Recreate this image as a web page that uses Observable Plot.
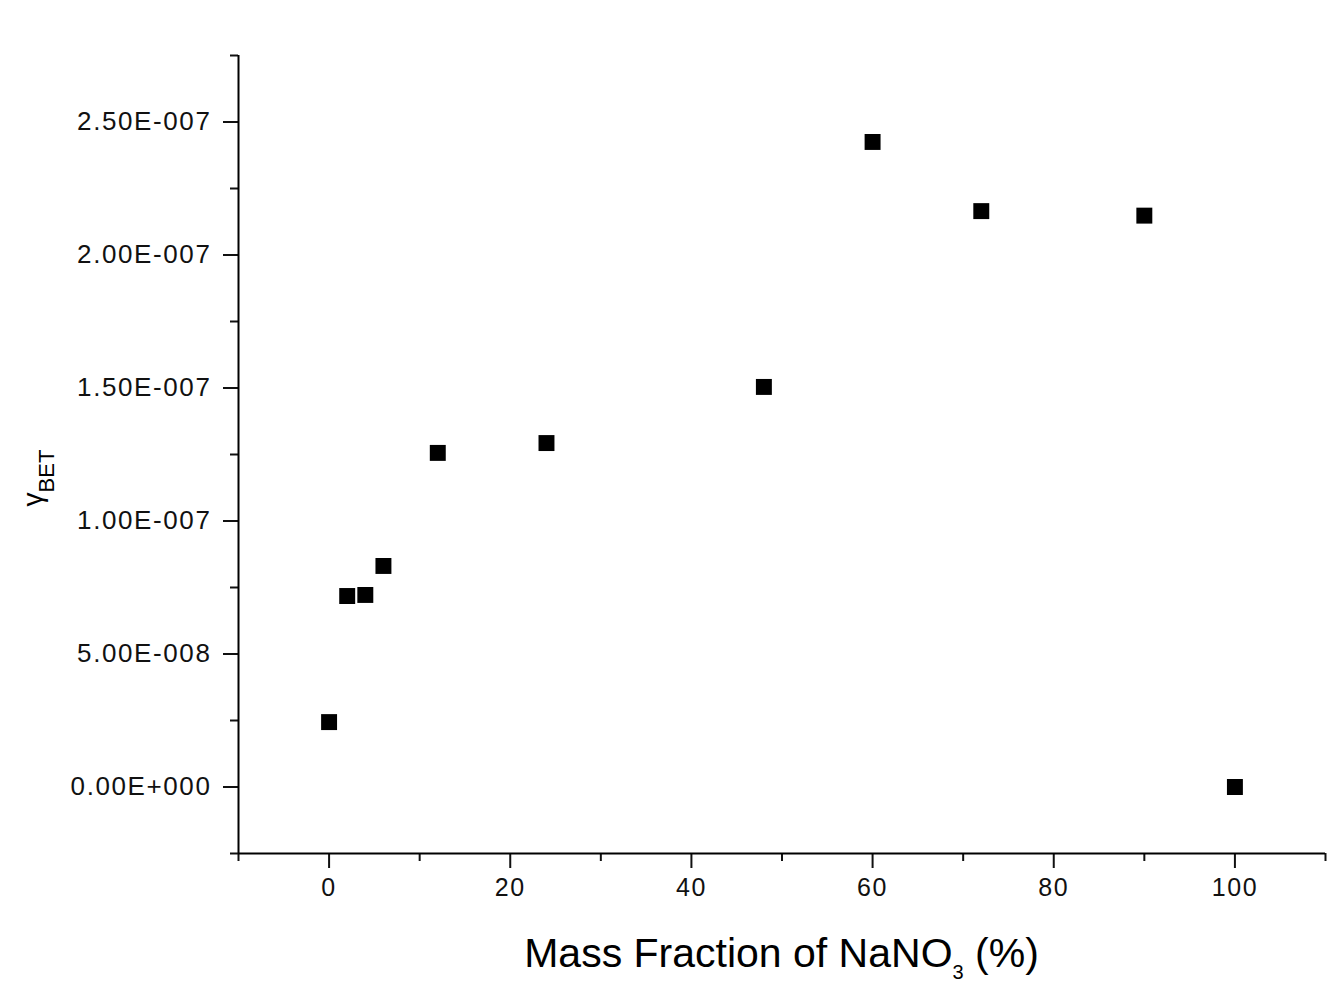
<!DOCTYPE html>
<html>
<head>
<meta charset="utf-8">
<script src="https://cdn.jsdelivr.net/npm/d3@7"></script>
<script src="https://cdn.jsdelivr.net/npm/@observablehq/plot@0.6"></script>
<style>
  html, body { margin: 0; padding: 0; background: #fff; }
  #chart svg { display: block; }
  #chart svg g[aria-label$="tick label"] text { letter-spacing: 1.6px; }
</style>
</head>
<body>
<div id="chart"></div>
<script>
// Data
const massFraction = [0, 2, 4, 6, 12, 24, 48, 60, 72, 90, 100];
const gammaBET = [2.44e-8, 7.18e-8, 7.22e-8, 8.31e-8, 1.256e-7, 1.293e-7, 1.504e-7, 2.425e-7, 2.165e-7, 2.148e-7, 0];

const xMajorTicks = [0, 20, 40, 60, 80, 100];
const xMinorTicks = [-10, 10, 30, 50, 70, 90, 110];
const yMajorTicks = [0, 5e-8, 1e-7, 1.5e-7, 2e-7, 2.5e-7];
const yMinorTicks = [-2.5e-8, 2.5e-8, 7.5e-8, 1.25e-7, 1.75e-7, 2.25e-7, 2.75e-7];

const xDomain = [-10, 110];
const yDomain = [-2.5e-8, 2.75e-7];

const data = massFraction.map((x, i) => ({x, y: gammaBET[i]}));

function sciFormat(d) {
  if (d === 0) return "0.00E+000";
  let e = Math.floor(Math.log10(Math.abs(d)));
  let m = d / Math.pow(10, e);
  if (Math.abs(m) >= 9.995) { m /= 10; e += 1; }
  const sign = e < 0 ? "-" : "+";
  return m.toFixed(2) + "E" + sign + String(Math.abs(e)).padStart(3, "0");
}

const font = "'Liberation Sans', Arial, sans-serif";

const W = 1338, H = 993;
const mL = 238, mR = 13, mT = 55, mB = 140;

const chart = Plot.plot({
  width: W,
  height: H,
  marginLeft: mL,
  marginRight: mR,
  marginTop: mT,
  marginBottom: mB,
  style: {fontFamily: font, background: "#fff", color: "#111"},
  x: {domain: xDomain, label: null},
  y: {domain: yDomain, label: null},
  marks: [
    Plot.axisX({ticks: xMajorTicks, tickSize: 15, tickPadding: 10, strokeWidth: 2, fontSize: 25, label: null, tickFormat: d => String(d)}),
    Plot.axisX({ticks: xMinorTicks, tickSize: 8, strokeWidth: 2, label: null, tickFormat: () => ""}),
    Plot.axisY({ticks: yMajorTicks, tickSize: 15, tickPadding: 12, strokeWidth: 2, fontSize: 26, label: null, tickFormat: sciFormat}),
    Plot.axisY({ticks: yMinorTicks, tickSize: 8, strokeWidth: 2, label: null, tickFormat: () => ""}),
    Plot.ruleX([xDomain[0]], {stroke: "#000", strokeWidth: 2}),
    Plot.ruleY([yDomain[0]], {stroke: "#000", strokeWidth: 2}),
    Plot.dot(data, {x: "x", y: "y", symbol: "square", r: 9, fill: "#000", stroke: "none"})
  ]
});

document.getElementById("chart").appendChild(chart);

const svg = d3.select(chart);

// x-axis title with subscript
const xt = svg.append("text")
  .attr("x", (mL + (W - mR)) / 2)
  .attr("y", 967)
  .attr("text-anchor", "middle")
  .attr("font-family", font)
  .attr("font-size", 41)
  .attr("fill", "#000");
xt.append("tspan").text("Mass Fraction of NaNO");
xt.append("tspan").attr("font-size", 20).attr("dy", 12).text("3");
xt.append("tspan").attr("dy", -12).text(" (%)");

// y-axis title with subscript
const yt = svg.append("text")
  .attr("transform", "translate(42,478) rotate(-90)")
  .attr("text-anchor", "middle")
  .attr("font-family", font)
  .attr("font-size", 28)
  .attr("fill", "#000");
yt.append("tspan").text("γ");
yt.append("tspan").attr("font-size", 22).attr("dy", 12).text("BET");
</script>
</body>
</html>
